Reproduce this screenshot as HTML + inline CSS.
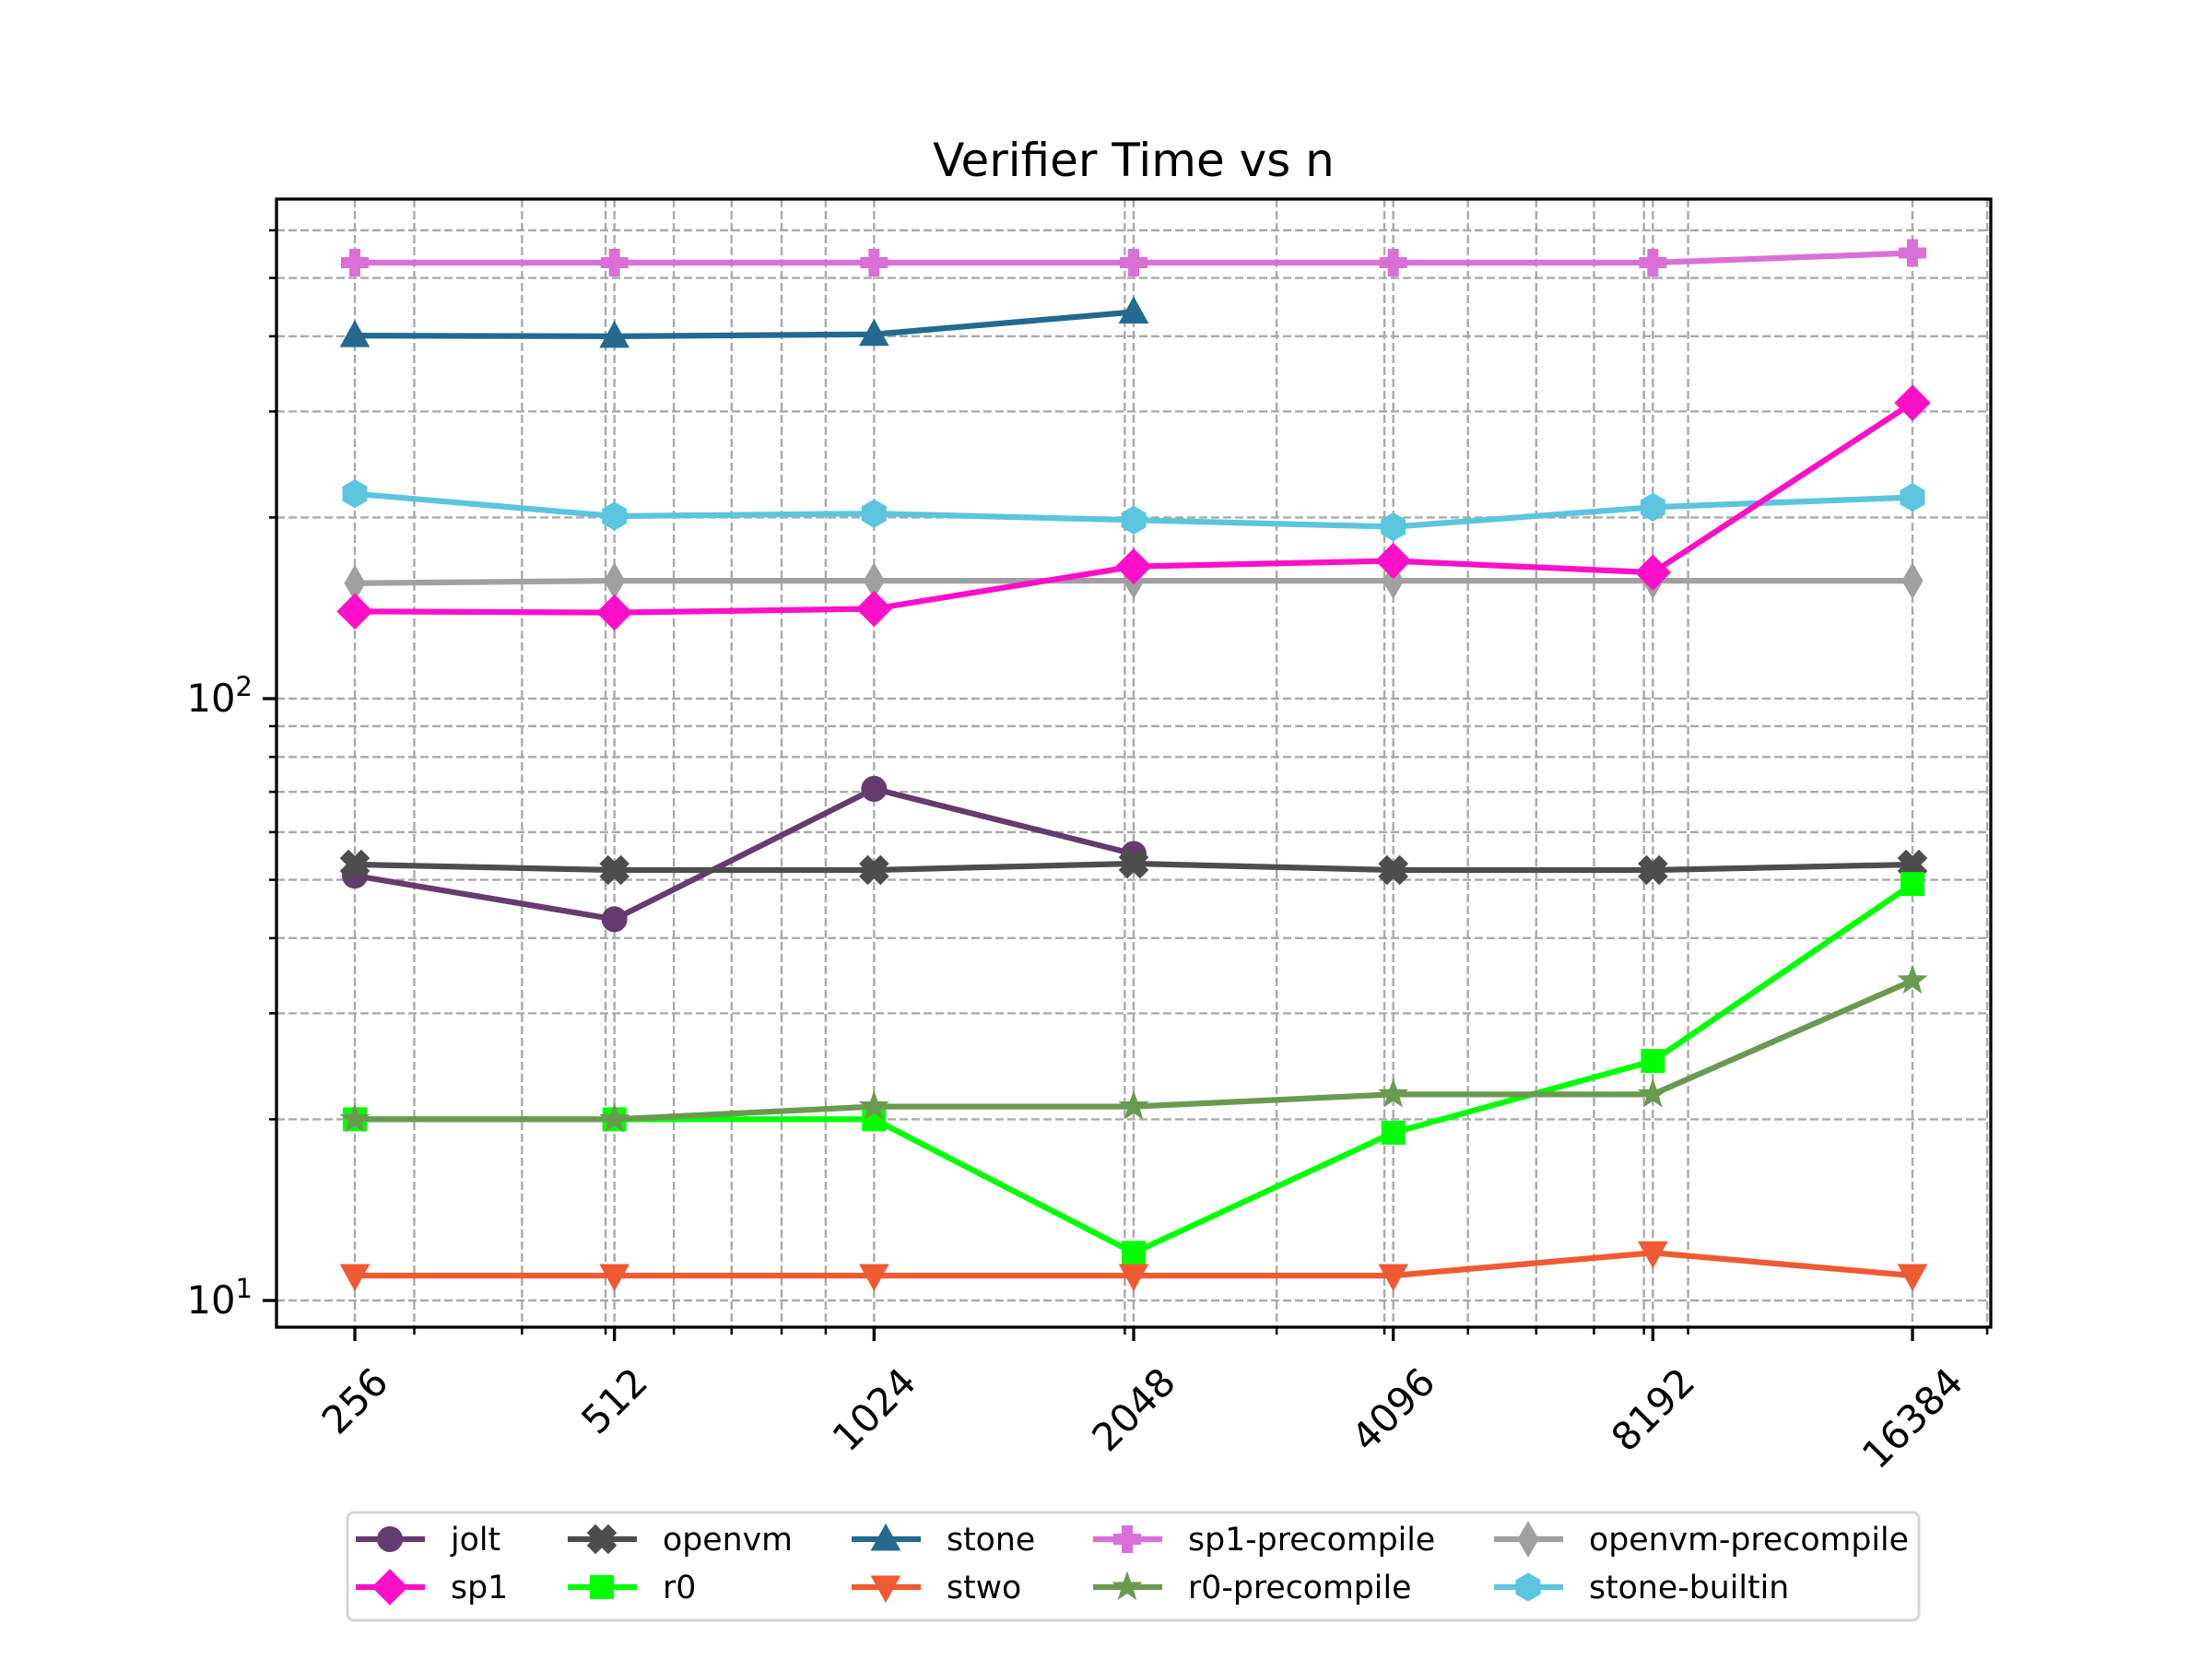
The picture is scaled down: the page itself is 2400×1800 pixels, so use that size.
<!DOCTYPE html>
<html><head><meta charset="utf-8">
<style>html,body{margin:0;padding:0;background:#fff}svg{display:block}</style>
</head><body>
<svg id="s" xmlns="http://www.w3.org/2000/svg" width="2400" height="1800" viewBox="0 0 2400 1800" font-family="DejaVu Sans, Liberation Sans, sans-serif">
<rect width="2400" height="1800" fill="#fff"/>
<g id="grid"></g>
<g id="series"></g>
<rect x="300" y="216" width="1860" height="1224" fill="none" stroke="#000" stroke-width="3.3"/>
<g id="ticks"></g>
<text x="1230" y="191" font-size="50" text-anchor="middle">Verifier Time vs n</text>
<g id="legend"></g>
</svg>
<script>
const NS="http://www.w3.org/2000/svg";
function el(t,a,p,txt){const e=document.createElementNS(NS,t);for(const k in a)e.setAttribute(k,a[k]);if(txt!==undefined)e.textContent=txt;p.appendChild(e);return e;}
const px=v=>385+281.67*Math.log2(v/256);
const py=v=>1411-653*Math.log10(v/10);
const L=300,R=2160,T=216,B=1440;
const grid=document.getElementById('grid'),ticks=document.getElementById('ticks');
const gs={stroke:'#aaaaaa','stroke-width':2.4,'stroke-dasharray':'9 4',fill:'none'};
const xmaj=[256,512,1024,2048,4096,8192,16384];
const xmin=[300,400,500,600,700,800,900,2000,3000,4000,5000,6000,7000,8000,9000,20000];
[...xmaj,...xmin].forEach(v=>{const x=Math.min(px(v),R-2);el('line',Object.assign({x1:x,x2:x,y1:T,y2:B},gs),grid);});
let ymaj=[10,100],ymin=[];for(let k=0;k<=2;k++)for(let m=2;m<=9;m++){const v=m*Math.pow(10,k);const y=py(v);if(y>T&&y<B)ymin.push(v);}
[...ymaj,...ymin].forEach(v=>{const y=py(v);el('line',Object.assign({x1:L,x2:R,y1:y,y2:y},gs),grid);});
xmaj.forEach(v=>{const x=px(v);el('line',{x1:x,x2:x,y1:B,y2:B+15,stroke:'#000','stroke-width':3.3},ticks);
 const w=String(v).length*26.5;const h=(w+42)/Math.SQRT2;const cy=1477+h/2;
 el('text',{x:0,y:0,'font-size':41.7,'text-anchor':'middle','dominant-baseline':'central',transform:`translate(${x},${cy}) rotate(-45)`},ticks,String(v));});
xmin.forEach(v=>{const x=Math.min(px(v),R-2);el('line',{x1:x,x2:x,y1:B,y2:B+8,stroke:'#000','stroke-width':2.5},ticks);});
ymaj.forEach(v=>{const y=py(v);el('line',{x1:L,x2:L-15,y1:y,y2:y,stroke:'#000','stroke-width':3.3},ticks);
 const t=el('text',{x:L-26,y:y+14,'font-size':41.7,'text-anchor':'end'},ticks);
 t.innerHTML='10<tspan dy="-17" font-size="29">'+(v==10?'1':'2')+'</tspan>';});
ymin.forEach(v=>{const y=py(v);el('line',{x1:L,x2:L-8,y1:y,y2:y,stroke:'#000','stroke-width':2.5},ticks);});
function marker(p,type,x,y,c,s){s=s||1;
 const f={fill:c,stroke:c,'stroke-width':1};
 const poly=pts=>el('polygon',Object.assign({points:pts.map(q=>(x+q[0]*s)+','+(y+q[1]*s)).join(' ')},f),p);
 switch(type){
 case 'o':el('circle',Object.assign({cx:x,cy:y,r:13.5*s},f),p);break;
 case 's':el('rect',Object.assign({x:x-12.5*s,y:y-12.5*s,width:25*s,height:25*s},f),p);break;
 case 'D':poly([[0,-19],[19,0],[0,19],[-19,0]]);break;
 case 'd':poly([[0,-19],[11,0],[0,19],[-11,0]]);break;
 case '^':poly([[0,-16],[15.5,12],[-15.5,12]]);break;
 case 'v':poly([[0,16],[15.5,-12],[-15.5,-12]]);break;
 case 'P':{const a=14.5,b=5.5;poly([[-b,-a],[b,-a],[b,-b],[a,-b],[a,b],[b,b],[b,a],[-b,a],[-b,b],[-a,b],[-a,-b],[-b,-b]]);break;}
 case 'X':{const a=15,b=5.8;const pts=[[-b,-a],[b,-a],[b,-b],[a,-b],[a,b],[b,b],[b,a],[-b,a],[-b,b],[-a,b],[-a,-b],[-b,-b]].map(q=>[(q[0]-q[1])*0.75,(q[0]+q[1])*0.75]);poly(pts);break;}
 case '*':{const pts=[];for(let i=0;i<10;i++){const r=i%2?6.5:16,a=-Math.PI/2+i*Math.PI/5;pts.push([r*Math.cos(a),r*Math.sin(a)]);}poly(pts);break;}
 case 'h':{const pts=[];for(let i=0;i<6;i++){const a=-Math.PI/2+i*Math.PI/3;pts.push([15*Math.cos(a),15*Math.sin(a)]);}poly(pts);break;}
 }}
const ns=xmaj;
const S=[
 ['sp1-precompile','#da70d6','P',[530,530,530,530,530,530,550]],
 ['stone','#236a8e','^',[401,400,403,439]],
 ['stone-builtin','#5bc5de','h',[219,201,203,198,193,208,216]],
 ['openvm-precompile','#a0a0a0','d',[155.5,157,157,157,157,157,157]],
 ['sp1','#ff10c8','D',[139.6,139,141,165.8,169.4,162,310]],
 ['jolt','#643c70','o',[50.8,43,70.8,55.2]],
 ['openvm','#4d4d4d','X',[53,51.9,51.9,53.2,51.9,51.9,53]],
 ['r0','#00ff00','s',[20,20,20,12,19,25,49.2]],
 ['r0-precompile','#6a9a50','*',[20,20,21,21,22,22,34]],
 ['stwo','#f05a32','v',[11,11,11,11,11,12,11]],
];
const sg=document.getElementById('series');
S.forEach(([n,c,m,d])=>{
 const pts=d.map((v,i)=>[px(ns[i]),py(v)]);
 el('polyline',{points:pts.map(p=>p.join(',')).join(' '),fill:'none',stroke:c,'stroke-width':6.25,'stroke-linejoin':'round'},sg);
 pts.forEach(p=>marker(sg,m,p[0],p[1],c));
});
const lg=document.getElementById('legend');
el('rect',{x:377,y:1641,width:1705,height:117,rx:7,fill:'#fff',stroke:'#d5d5d5','stroke-width':3},lg);
const order=[['jolt','openvm','stone','sp1-precompile','openvm-precompile'],['sp1','r0','stwo','r0-precompile','stone-builtin']];
const cx=[386,616,924,1186,1621],ry=[1670,1722];
const map={};S.forEach(s=>map[s[0]]=s);
order.forEach((row,ri)=>row.forEach((n,ci)=>{const [_,c,m]=map[n];const x0=cx[ci],y=ry[ri];
 el('line',{x1:x0,x2:x0+75,y1:y,y2:y,stroke:c,'stroke-width':6.25},lg);
 marker(lg,m,x0+37,y,c);
 el('text',{x:x0+103,y:y+12,'font-size':34.7},lg,n);}));
</script>
</body></html>
